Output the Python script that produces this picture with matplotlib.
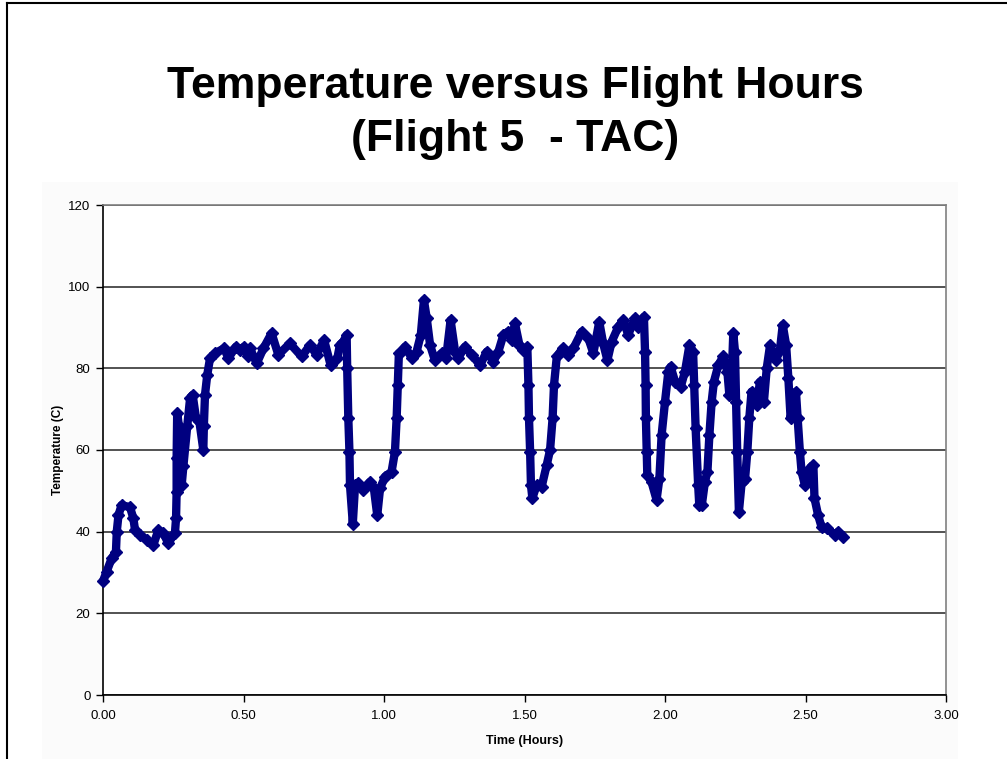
import matplotlib.pyplot as plt
import matplotlib.patches as mpatches
import numpy as np

# readings taken off the reference chart (hours, deg C)
hours = [0.000, 0.013, 0.031, 0.046, 0.049, 0.055, 0.066, 0.096, 0.108, 0.114,
         0.132, 0.155, 0.179, 0.197, 0.215, 0.232, 0.256, 0.260, 0.262, 0.262,
         0.264, 0.270, 0.272, 0.280, 0.286, 0.300, 0.310, 0.319, 0.331, 0.343,
         0.357, 0.359, 0.363, 0.371, 0.381, 0.399, 0.431, 0.446, 0.473, 0.488,
         0.502, 0.517, 0.523, 0.547, 0.571, 0.600, 0.624, 0.665, 0.707, 0.737,
         0.760, 0.787, 0.810, 0.834, 0.843, 0.855, 0.867, 0.869, 0.873, 0.877,
         0.879, 0.889, 0.897, 0.909, 0.926, 0.950, 0.964, 0.976, 0.986, 1.004,
         1.027, 1.039, 1.045, 1.049, 1.053, 1.057, 1.075, 1.099, 1.116, 1.131,
         1.142, 1.152, 1.164, 1.181, 1.205, 1.221, 1.237, 1.253, 1.264, 1.288,
         1.312, 1.342, 1.366, 1.389, 1.407, 1.425, 1.442, 1.454, 1.466, 1.482,
         1.496, 1.510, 1.514, 1.516, 1.520, 1.523, 1.528, 1.543, 1.561, 1.579,
         1.591, 1.600, 1.605, 1.615, 1.636, 1.656, 1.674, 1.704, 1.727, 1.745,
         1.766, 1.780, 1.795, 1.810, 1.834, 1.852, 1.869, 1.893, 1.905, 1.925,
         1.929, 1.931, 1.932, 1.935, 1.937, 1.952, 1.970, 1.980, 1.988, 2.000,
         2.012, 2.020, 2.036, 2.056, 2.071, 2.087, 2.100, 2.104, 2.109, 2.118,
         2.122, 2.125, 2.131, 2.142, 2.151, 2.158, 2.166, 2.174, 2.190, 2.207,
         2.222, 2.229, 2.237, 2.243, 2.249, 2.253, 2.257, 2.263, 2.273, 2.285,
         2.293, 2.300, 2.308, 2.326, 2.338, 2.352, 2.362, 2.374, 2.395, 2.409,
         2.419, 2.431, 2.439, 2.447, 2.456, 2.466, 2.472, 2.480, 2.486, 2.498,
         2.516, 2.528, 2.532, 2.545, 2.557, 2.575, 2.605, 2.616, 2.635]
temps = [27.9, 30.2, 33.5, 35.0, 40.0, 44.0, 46.5, 46.0, 43.3, 40.4,
         39.2, 38.0, 36.7, 40.4, 39.6, 37.2, 39.6, 43.3, 49.8, 58.0,
         69.0, 66.0, 57.0, 51.4, 56.0, 66.0, 72.7, 73.5, 67.8, 67.0,
         60.0, 66.0, 73.5, 78.4, 82.5, 83.7, 84.9, 82.5, 85.3, 84.5,
         85.3, 82.9, 84.9, 81.2, 84.9, 88.6, 83.3, 86.1, 82.9, 85.7,
         83.3, 86.9, 80.8, 82.5, 85.7, 86.5, 88.2, 80.0, 67.8, 59.6,
         51.4, 42.0, 51.4, 51.8, 50.2, 52.2, 50.6, 44.0, 50.6, 53.5,
         54.7, 59.6, 67.8, 75.9, 83.7, 83.7, 85.3, 82.5, 84.1, 88.2,
         96.7, 92.3, 85.7, 82.0, 83.7, 82.5, 91.8, 84.1, 82.5, 85.3,
         83.3, 80.8, 84.1, 81.6, 84.1, 88.2, 89.0, 87.0, 91.0, 85.7,
         84.5, 85.3, 75.9, 67.8, 59.6, 51.4, 48.2, 51.4, 51.0, 56.3,
         60.0, 67.8, 75.9, 82.9, 84.9, 83.3, 84.9, 89.0, 87.4, 83.7,
         91.4, 86.1, 82.0, 86.5, 90.2, 91.8, 88.2, 92.3, 90.2, 92.6,
         84.1, 75.9, 67.8, 59.6, 53.9, 52.2, 47.8, 53.0, 63.7, 71.8,
         79.2, 80.4, 76.7, 75.5, 79.2, 85.7, 84.1, 75.9, 65.3, 51.4,
         46.5, 51.4, 46.5, 52.2, 54.7, 63.7, 71.8, 76.7, 80.8, 82.9,
         79.2, 73.5, 77.1, 88.6, 84.1, 71.8, 59.6, 44.9, 52.2, 53.0,
         59.6, 67.8, 74.3, 71.0, 76.7, 71.8, 80.0, 85.7, 82.0, 84.5,
         90.6, 85.7, 77.6, 67.8, 71.8, 74.3, 67.8, 59.6, 54.7, 51.4,
         55.5, 56.3, 48.2, 44.0, 41.2, 40.8, 39.2, 40.0, 38.8]

x_ticks = [0.0, 0.5, 1.0, 1.5, 2.0, 2.5, 3.0]
y_ticks = [0, 20, 40, 60, 80, 100, 120]

plt.rcParams['font.family'] = ['Liberation Sans', 'DejaVu Sans']

fig = plt.figure(figsize=(10.07, 7.59), dpi=100)
W, H = 1007.0, 759.0

# slide frame and chart area
fig.add_artist(mpatches.Rectangle((42 / W, 0), (958 - 42) / W, (759 - 182) / H,
                                  transform=fig.transFigure, facecolor='#fbfbfb',
                                  edgecolor='none', zorder=0))
fig.add_artist(plt.Line2D([7 / W, 7 / W], [0, 1 - 3 / H], transform=fig.transFigure,
                          color='black', lw=1.5))
fig.add_artist(plt.Line2D([7 / W, 1], [1 - 3 / H, 1 - 3 / H], transform=fig.transFigure,
                          color='black', lw=1.5))

ax = fig.add_axes([103 / W, 64 / H, (946 - 103) / W, (695 - 205) / H])
ax.set_facecolor('white')

ax.plot(hours, temps, color='#000080', lw=6, marker='D', ms=6.5,
        solid_joinstyle='round', solid_capstyle='round', zorder=3, clip_on=False)

ax.set_xlim(0, 3)
ax.set_ylim(0, 120)
ax.set_xticks(x_ticks)
ax.set_xticklabels([f"{v:.2f}" for v in x_ticks])
ax.set_yticks(y_ticks)
ax.tick_params(axis='both', labelsize=9.5, colors='black', length=5, width=1,
               direction='out', pad=4)
ax.tick_params(axis='x', pad=6)
ax.yaxis.grid(True, color='#444444', lw=1.3)
ax.set_axisbelow(True)

for side in ['top', 'right']:
    ax.spines[side].set_color('#808080')
    ax.spines[side].set_linewidth(1.2)
for side in ['left', 'bottom']:
    ax.spines[side].set_color('black')
    ax.spines[side].set_linewidth(1.2)

ax.set_xlabel('Time (Hours)', fontsize=9, fontweight='bold', labelpad=9)
ax.set_ylabel('Temperature (C)', fontsize=8.5, fontweight='bold', labelpad=3)

fig.text(515 / W, 1 - 113 / H, 'Temperature versus Flight Hours\n(Flight 5  - TAC)',
         ha='center', va='center', fontsize=32, fontweight='bold',
         linespacing=1.38)

fig.savefig('out.png', dpi=100)
